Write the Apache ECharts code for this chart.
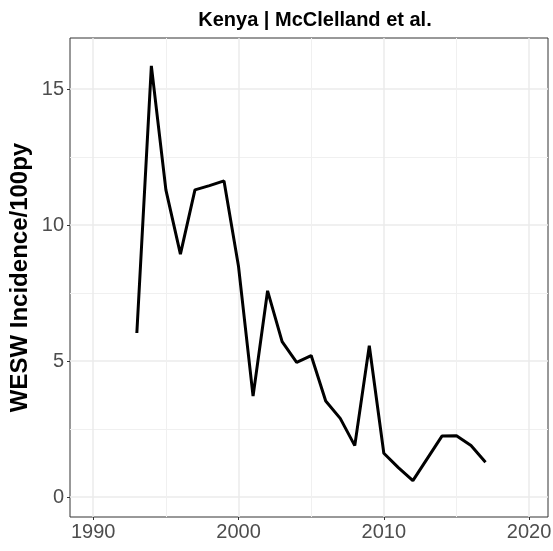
<!DOCTYPE html>
<html>
<head>
<meta charset="utf-8">
<script src="https://cdn.jsdelivr.net/npm/echarts@6/dist/echarts.min.js"></script>
<style>
  html, body { margin: 0; padding: 0; background: #fff; }
  #chart { width: 553px; height: 551px; }
</style>
</head>
<body>
<div id="chart"></div>
<script>
  // data
  var years = [1993, 1994, 1995, 1996, 1997, 1998, 1999, 2000, 2001, 2002, 2003, 2004, 2005,
               2006, 2007, 2008, 2009, 2010, 2011, 2012, 2013, 2014, 2015, 2016, 2017];
  var incidence = [6.03, 15.85, 11.29, 8.93, 11.29, 11.45, 11.62, 8.47, 3.71, 7.58, 5.71, 4.95, 5.20,
                   3.53, 2.89, 1.89, 5.56, 1.61, 1.08, 0.60, 1.42, 2.24, 2.25, 1.89, 1.28];
  var xTicks = [1990, 2000, 2010, 2020];
  var xMinor = [1995, 2005, 2015];
  var yTicks = [0, 5, 10, 15];
  var yMinor = [2.5, 7.5, 12.5];

  var chart = echarts.init(document.getElementById('chart'));
  var xMin = 1988.4, xMax = 2021.3;
  var yMin = -0.735, yMax = 16.875;

  function axisBase(extra) {
    var a = {
      type: 'value',
      axisLine: { show: false, onZero: false },
      splitLine: { show: true, lineStyle: { color: '#ebebeb', width: 1.5 } }
    };
    return Object.assign(a, extra);
  }

  var option = {
    animation: false,
    title: {
      text: 'Kenya | McClelland et al.',
      left: 310,
      textAlign: 'center',
      top: 5,
      textStyle: { fontFamily: 'Liberation Sans', fontWeight: 'bold', fontSize: 20, color: '#000' }
    },
    grid: {
      left: 70, right: 5, top: 38, bottom: 34,
      containLabel: false, outerBoundsMode: 'none',
      show: true, borderColor: '#333333', borderWidth: 1, backgroundColor: '#fff'
    },
    xAxis: [
      axisBase({
        min: xMin, max: xMax,
        axisTick: { show: true, customValues: xTicks, length: 3, lineStyle: { color: '#333' } },
        axisLabel: { customValues: xTicks, color: '#4d4d4d', fontSize: 20,
                     fontFamily: 'Liberation Sans', margin: 5,
                     formatter: function (v) { return String(v); } }
      }),
      axisBase({
        min: xMin, max: xMax, position: 'bottom',
        axisTick: { show: false, customValues: xMinor },
        axisLabel: { show: false, customValues: xMinor },
        splitLine: { show: true, lineStyle: { color: '#f0f0f0', width: 1 } }
      })
    ],
    yAxis: [
      axisBase({
        min: yMin, max: yMax,
        name: 'WESW Incidence/100py',
        nameLocation: 'middle',
        nameGap: 38,
        nameMoveOverlap: false,
        nameTextStyle: { fontFamily: 'Liberation Sans', fontWeight: 'bold', fontSize: 24, color: '#000' },
        axisTick: { show: true, customValues: yTicks, length: 3, lineStyle: { color: '#333' } },
        axisLabel: { customValues: yTicks, color: '#4d4d4d', fontSize: 20,
                     fontFamily: 'Liberation Sans', margin: 6,
                     formatter: function (v) { return String(v); } }
      }),
      axisBase({
        min: yMin, max: yMax, position: 'left',
        axisTick: { show: false, customValues: yMinor },
        axisLabel: { show: false, customValues: yMinor },
        splitLine: { show: true, lineStyle: { color: '#f0f0f0', width: 1 } }
      })
    ],
    series: [
      {
        type: 'line',
        data: years.map(function (y, i) { return [y, incidence[i]]; }),
        showSymbol: false,
        lineStyle: { color: '#000', width: 3 },
        itemStyle: { color: '#000' }
      }
    ]
  };
  chart.setOption(option);
</script>
</body>
</html>
